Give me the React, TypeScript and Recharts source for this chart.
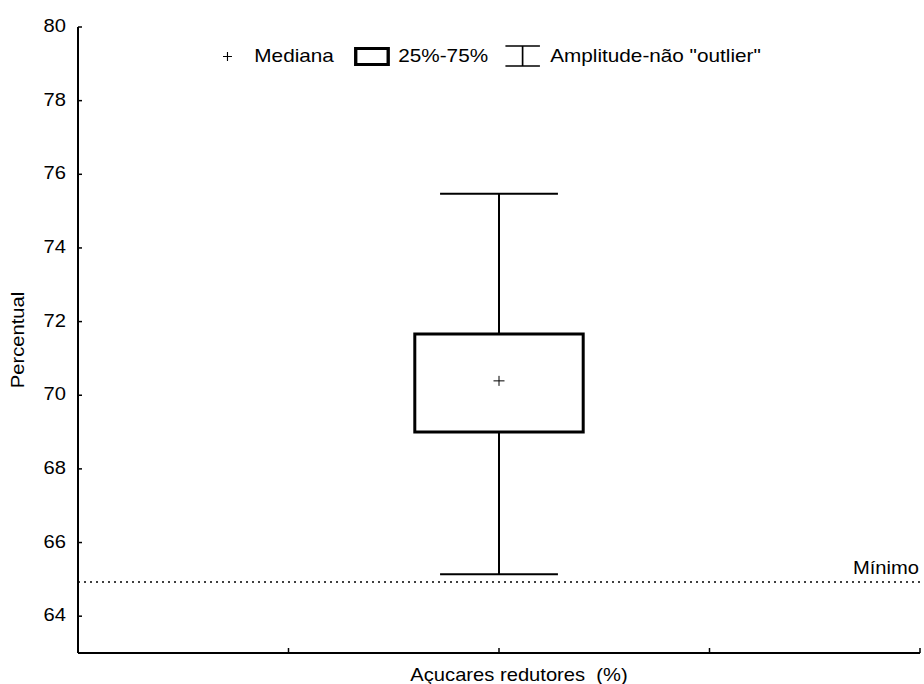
import {
  ComposedChart,
  ReferenceArea,
  ReferenceLine,
  Scatter,
  XAxis,
  YAxis,
} from 'recharts'

if (typeof document !== 'undefined') document.body.style.margin = '0'

// values
const categories = ['Açucares redutores  (%)']
const categoryX = [2]
const medianas = [70.39]
const quartil25 = [69.0]
const quartil75 = [71.66]
const limiteInferior = [65.14]
const limiteSuperior = [75.47]
const minimo = 64.93

const yTicks = [64, 66, 68, 70, 72, 74, 76, 78, 80]
const xTicks = [0, 1, 2, 3, 4]

const rows = categories.map((name, i) => ({
  name,
  x: categoryX[i],
  mediana: medianas[i],
  q1: quartil25[i],
  q3: quartil75[i],
  lo: limiteInferior[i],
  hi: limiteSuperior[i],
}))

const FONT = '"Liberation Sans", Arial, sans-serif'
// the original font is a bit wider than Arial
const SX = 1.12
const BOX_HALF = 0.4
const CAP_HALF = 0.28

function YTick(props: { x?: number; y?: number; payload?: { value: number } }) {
  const { x = 0, y = 0, payload } = props
  return (
    <g>
      <line x1={x + 12} x2={x + 16} y1={y} y2={y} stroke="#000" strokeWidth={1.5} />
      <text
        transform={`translate(${x},${y + 5}) scale(${SX},1)`}
        textAnchor="end"
        fontSize={18}
        fontFamily={FONT}
        fill="#000"
      >
        {payload?.value}
      </text>
    </g>
  )
}

function XTick(props: { x?: number; y?: number; payload?: { value: number } }) {
  const { x = 0, y = 0, payload } = props
  const v = payload?.value ?? 0
  const idx = categoryX.indexOf(v)
  return (
    <g>
      {v !== 0 && <line x1={x} x2={x} y1={y} y2={y - 5} stroke="#000" strokeWidth={1.5} />}
      {idx >= 0 && (
        <text
          transform={`translate(${x + 20},${y + 28}) scale(${SX},1)`}
          textAnchor="middle"
          fontSize={18}
          fontFamily={FONT}
          fill="#000"
          style={{ whiteSpace: 'pre' }}
        >
          {categories[idx]}
        </text>
      )}
    </g>
  )
}

function YLabel(props: { viewBox?: { x: number; y: number; width: number; height: number } }) {
  const vb = props.viewBox ?? { x: 0, y: 27, width: 78, height: 626 }
  return (
    <text
      transform={`translate(${vb.x + 24},${vb.y + vb.height / 2}) rotate(-90) scale(${SX},1)`}
      textAnchor="middle"
      fontSize={18}
      fontFamily={FONT}
      fill="#000"
    >
      Percentual
    </text>
  )
}

function MinLabel(props: { viewBox?: { x: number; y: number; width: number; height: number } }) {
  const vb = props.viewBox
  if (!vb) return null
  return (
    <text
      transform={`translate(${vb.x + vb.width - 1},${vb.y - 8}) scale(${SX},1)`}
      textAnchor="end"
      fontSize={18}
      fontFamily={FONT}
      fill="#000"
    >
      Mínimo
    </text>
  )
}

function MedianCross(props: { cx?: number; cy?: number }) {
  const { cx = 0, cy = 0 } = props
  return (
    <g stroke="#000" strokeWidth={1}>
      <line x1={cx - 5.5} x2={cx + 5.5} y1={cy} y2={cy} />
      <line x1={cx} x2={cx} y1={cy - 5} y2={cy + 5} />
    </g>
  )
}

function BoxLegend() {
  return (
    <div
      style={{
        position: 'absolute',
        left: 223,
        top: 46,
        height: 20,
        display: 'flex',
        alignItems: 'center',
        transform: `scaleX(${SX})`,
        transformOrigin: 'left center',
        fontFamily: FONT,
        fontSize: 18.5,
        lineHeight: '20px',
        whiteSpace: 'nowrap',
        color: '#000',
      }}
    >
      <svg width={8} height={9}>
        <line x1={0} x2={8} y1={4.5} y2={4.5} stroke="#000" strokeWidth={1} />
        <line x1={4} x2={4} y1={0} y2={9} stroke="#000" strokeWidth={1} />
      </svg>
      <span style={{ marginLeft: 20 }}>Mediana</span>
      <svg width={32} height={19} style={{ marginLeft: 18.5 }}>
        <rect x={1.5} y={1.5} width={29} height={16} fill="none" stroke="#000" strokeWidth={3} />
      </svg>
      <span style={{ marginLeft: 7 }}>25%-75%</span>
      <svg width={31} height={22} style={{ marginLeft: 15.5 }}>
        <line x1={0} x2={31} y1={1} y2={1} stroke="#000" strokeWidth={1.5} />
        <line x1={15.5} x2={15.5} y1={1} y2={21} stroke="#000" strokeWidth={1.5} />
        <line x1={0} x2={31} y1={21} y2={21} stroke="#000" strokeWidth={1.5} />
      </svg>
      <span style={{ marginLeft: 9 }}>Amplitude-não "outlier"</span>
    </div>
  )
}

export default function App() {
  return (
    <div style={{ position: 'relative', width: 924, height: 684, background: '#fff' }}>
      <ComposedChart
        width={924}
        height={684}
        data={rows}
        margin={{ top: 27, right: 4, bottom: 0, left: 0 }}
      >
        <XAxis
          dataKey="x"
          type="number"
          domain={[0, 4]}
          ticks={xTicks}
          interval={0}
          height={31}
          axisLine={{ stroke: '#000', strokeWidth: 2 }}
          tickLine={false}
          tickSize={0}
          tickMargin={0}
          tick={<XTick />}
        />
        <YAxis
          type="number"
          domain={[63, 80]}
          ticks={yTicks}
          interval={0}
          width={78}
          axisLine={{ stroke: '#000', strokeWidth: 2 }}
          tickLine={false}
          tickSize={0}
          tickMargin={12}
          tick={<YTick />}
          label={{ content: <YLabel /> }}
        />
        <ReferenceLine
          y={minimo}
          stroke="#000"
          strokeWidth={1.5}
          strokeDasharray="2 4"
          label={{ content: <MinLabel /> }}
        />
        {rows.map((r) => (
          <ReferenceLine
            key={`hi-${r.name}`}
            segment={[
              { x: r.x, y: r.q3 },
              { x: r.x, y: r.hi },
            ]}
            stroke="#000"
            strokeWidth={2}
          />
        ))}
        {rows.map((r) => (
          <ReferenceLine
            key={`lo-${r.name}`}
            segment={[
              { x: r.x, y: r.lo },
              { x: r.x, y: r.q1 },
            ]}
            stroke="#000"
            strokeWidth={2}
          />
        ))}
        {rows.map((r) => (
          <ReferenceLine
            key={`caphi-${r.name}`}
            segment={[
              { x: r.x - CAP_HALF, y: r.hi },
              { x: r.x + CAP_HALF, y: r.hi },
            ]}
            stroke="#000"
            strokeWidth={2}
          />
        ))}
        {rows.map((r) => (
          <ReferenceLine
            key={`caplo-${r.name}`}
            segment={[
              { x: r.x - CAP_HALF, y: r.lo },
              { x: r.x + CAP_HALF, y: r.lo },
            ]}
            stroke="#000"
            strokeWidth={2}
          />
        ))}
        {rows.map((r) => (
          <ReferenceArea
            key={`box-${r.name}`}
            x1={r.x - BOX_HALF}
            x2={r.x + BOX_HALF}
            y1={r.q1}
            y2={r.q3}
            fill="none"
            fillOpacity={0}
            stroke="#000"
            strokeWidth={3}
            strokeOpacity={1}
          />
        ))}
        <Scatter dataKey="mediana" shape={<MedianCross />} isAnimationActive={false} />
      </ComposedChart>
      <BoxLegend />
    </div>
  )
}
